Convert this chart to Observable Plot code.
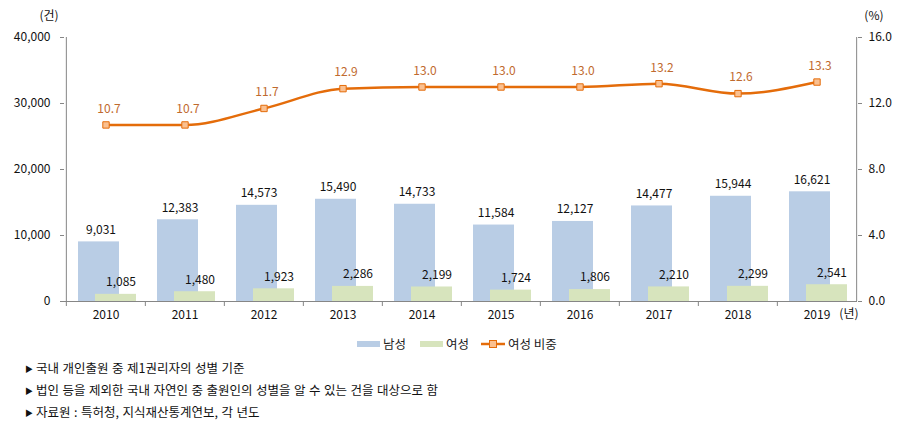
<!DOCTYPE html>
<html>
<head>
<meta charset="utf-8">
<script src="https://cdn.jsdelivr.net/npm/d3@7"></script>
<script src="https://cdn.jsdelivr.net/npm/@observablehq/plot@0.6"></script>
<style>
  html, body { margin: 0; padding: 0; background: #fff; }
  body { width: 917px; height: 441px; overflow: hidden; font-family: "Noto Sans CJK KR", "Noto Sans", sans-serif; }
  #chart svg { display: block; }
  #legend { position: relative; height: 27px; font-size: 12.5px; color: #222; }
  #legend .item { position: absolute; top: 0; height: 27px; display: flex; align-items: center; }
  #notes { font-size: 12.5px; color: #111; padding-left: 25px; word-spacing: 0.7px; }
  #notes div { height: 21.8px; line-height: 21.8px; white-space: nowrap; }
  #notes .tri { display: inline-block; font-size: 8px; vertical-align: 1px; margin-right: 3px; }
</style>
</head>
<body>
<div id="chart"></div>
<div id="legend"></div>
<div id="notes"></div>
<script>
// ---- data ----
const years = ["2010", "2011", "2012", "2013", "2014", "2015", "2016", "2017", "2018", "2019"];
const male = [9031, 12383, 14573, 15490, 14733, 11584, 12127, 14477, 15944, 16621];
const female = [1085, 1480, 1923, 2286, 2199, 1724, 1806, 2210, 2299, 2541];
const share = [10.7, 10.7, 11.7, 12.9, 13.0, 13.0, 13.0, 13.2, 12.6, 13.3];
const leftTicks = [0, 10000, 20000, 30000, 40000];
const seriesNames = ["남성", "여성", "여성 비중"];
const notes = [
  "국내 개인출원 중 제1권리자의 성별 기준",
  "법인 등을 제외한 국내 자연인 중 출원인의 성별을 알 수 있는 건을 대상으로 함",
  "자료원 : 특허청, 지식재산통계연보, 각 년도"
];

// ---- tables built from the arrays ----
const leftMax = 40000, rightMax = 16;
const ratio = leftMax / rightMax;
const rows = years.map((y, i) => ({year: y, male: male[i], female: female[i], share: share[i]}));

const W = 917, H = 330;
const mL = 64, mR = 60, mT = 37, mB = 29;
const bw = (W - mL - mR) / years.length;

const cMale = "#b9cde5", cFemale = "#d7e4bd", cLine = "#e46c0a", cMarker = "#fac090", cLineText = "#bf6a2e";
const axisColor = "#868686";
const font = "'Noto Sans CJK KR', 'Noto Sans', sans-serif";

const chart = Plot.plot({
  width: W, height: H,
  marginLeft: mL, marginRight: mR, marginTop: mT, marginBottom: mB,
  style: {fontFamily: font, fontSize: "12px", color: "#111", background: "#fff"},
  x: {type: "band", domain: years, padding: 0},
  y: {domain: [0, leftMax]},
  marks: [
    Plot.barY(rows, {x: "year", y: "male", fill: cMale, insetLeft: 12, insetRight: 26}),
    Plot.barY(rows, {x: "year", y: "female", fill: cFemale, insetLeft: 29, insetRight: 9}),
    Plot.ruleY([0], {stroke: axisColor}),
    Plot.ruleX([years[0]], {stroke: axisColor, dx: -bw / 2, y1: 0, y2: leftMax}),
    Plot.ruleX([years[years.length - 1]], {stroke: axisColor, dx: bw / 2, y1: 0, y2: leftMax}),
    Plot.axisY({anchor: "left", ticks: leftTicks, tickFormat: d3.format(","), tickSize: 4, tickPadding: 10, stroke: axisColor, color: "#111", fontSize: 12, label: null}),
    Plot.axisY({anchor: "right", ticks: leftTicks, tickFormat: d => (d / ratio).toFixed(1), tickSize: 4, tickPadding: 7, stroke: axisColor, color: "#111", fontSize: 12, label: null}),
    Plot.axisX({anchor: "bottom", tickSize: 0, tickPadding: 9, color: "#111", fontSize: 12, label: null}),
    Plot.axisX({anchor: "bottom", tickSize: 5, tickFormat: null, dx: -bw / 2, stroke: axisColor, label: null}),
    Plot.text(rows, {x: "year", y: "male", text: d => d3.format(",")(d.male), dx: -5, dy: -12, fill: "#111", fontSize: 12}),
    Plot.text(rows, {x: "year", y: "female", text: d => d3.format(",")(d.female), dx: 15, dy: -12, fill: "#111", fontSize: 12}),
    Plot.line(rows, {x: "year", y: d => d.share * ratio, stroke: cLine, strokeWidth: 2.5, curve: "monotone-x"}),
    Plot.dot(rows, {x: "year", y: d => d.share * ratio, symbol: "square", r: 3.6, fill: cMarker, stroke: cLine, strokeWidth: 1}),
    Plot.text(rows, {x: "year", y: d => d.share * ratio, text: d => d.share.toFixed(1), dx: 3, dy: -16, fill: cLineText, fontSize: 12}),
    Plot.text(["(건)"], {frameAnchor: "top-left", dx: -25, dy: -26, fill: "#111", fontSize: 12}),
    Plot.text(["(%)"], {frameAnchor: "top-right", dx: 26, dy: -26, fill: "#111", fontSize: 12}),
    Plot.text(["(년)"], {frameAnchor: "bottom-right", dx: 1, dy: 16, fill: "#111", fontSize: 12})
  ]
});
document.getElementById("chart").appendChild(chart);

// ---- legend ----
const legend = document.getElementById("legend");
const legendItems = [
  {name: seriesNames[0], left: 357, type: "bar", color: cMale},
  {name: seriesNames[1], left: 420, type: "bar", color: cFemale},
  {name: seriesNames[2], left: 481, type: "line", color: cLine}
];
for (const it of legendItems) {
  const d = document.createElement("div");
  d.className = "item";
  d.style.left = it.left + "px";
  let sw;
  if (it.type === "bar") {
    sw = `<svg width="23" height="8" style="margin-right:3px"><rect x="0" y="1" width="23" height="6" fill="${it.color}"/></svg>`;
  } else {
    sw = `<svg width="24" height="8" style="margin-right:3px"><line x1="0" y1="4" x2="24" y2="4" stroke="${it.color}" stroke-width="2.5"/><rect x="8.5" y="0.5" width="7" height="7" fill="${cMarker}" stroke="${it.color}" stroke-width="1"/></svg>`;
  }
  d.innerHTML = sw + `<span>${it.name}</span>`;
  legend.appendChild(d);
}

// ---- notes ----
const notesEl = document.getElementById("notes");
for (const n of notes) {
  const d = document.createElement("div");
  d.innerHTML = `<span class="tri">▶</span>${n}`;
  notesEl.appendChild(d);
}
</script>
</body>
</html>
